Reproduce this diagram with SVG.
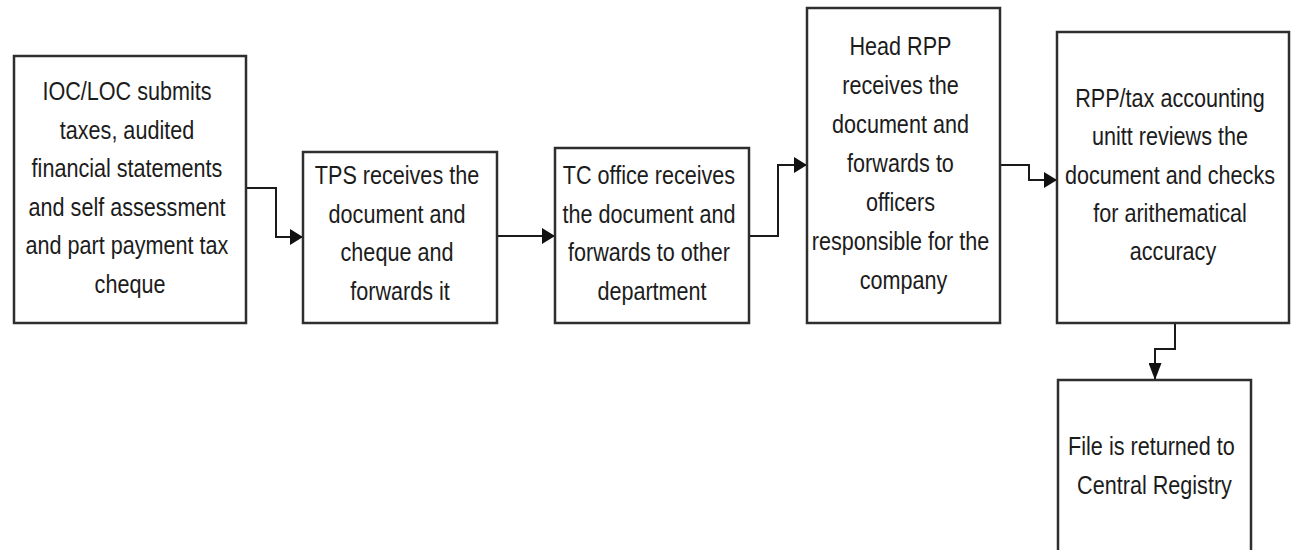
<svg xmlns="http://www.w3.org/2000/svg" width="1291" height="550" viewBox="0 0 1291 550">
  <style>
    .box { fill: #ffffff; stroke: #2e2e2e; stroke-width: 2.5; }
    .lbl { font-family: "Liberation Sans", Arial, sans-serif; font-size: 21.6px; fill: #1c1c1c; text-anchor: middle; }
    .link { fill: none; stroke: #1a1a1a; stroke-width: 2; }
  </style>
  <defs>
    <marker id="arrow-h" viewBox="0 0 13 16" refX="13" refY="8" markerWidth="13" markerHeight="16" markerUnits="userSpaceOnUse" orient="auto">
      <path d="M0,0 L13,8 L0,16 z" fill="#111"/>
    </marker>
    <marker id="arrow-v" viewBox="0 0 17 13" refX="17" refY="6.5" markerWidth="17" markerHeight="13" markerUnits="userSpaceOnUse" orient="auto">
      <path d="M0,0 L17,6.5 L0,13 z" fill="#111"/>
    </marker>
  </defs>
  <rect width="1291" height="550" fill="#ffffff"/>

  <!-- Connectors -->
  <g id="connectors">
    <path class="link" d="M246,188 H276 V237 H303" marker-end="url(#arrow-h)"/>
    <path class="link" d="M497,236 H555" marker-end="url(#arrow-h)"/>
    <path class="link" d="M749,236 H778 V165 H807" marker-end="url(#arrow-h)"/>
    <path class="link" d="M1000,165 H1029 V180 H1057" marker-end="url(#arrow-h)"/>
    <path class="link" d="M1175,323 V349 H1155 V380" marker-end="url(#arrow-v)"/>
  </g>

  <!-- Process steps (text is drawn in a vertically stretched space) -->
  <g id="node-submit">
    <rect class="box" x="14" y="56" width="232" height="267"/>
    <text class="lbl" transform="scale(1 1.2)" y="83.4">
      <tspan x="130">IOC/LOC submits</tspan>
      <tspan x="130" dy="32.17">taxes, audited</tspan>
      <tspan x="130" dy="32.17">financial statements</tspan>
      <tspan x="130" dy="32.17">and self assessment</tspan>
      <tspan x="130" dy="32.17">and part payment tax</tspan>
      <tspan x="130" dy="32.17">cheque</tspan>
    </text>
  </g>

  <g id="node-tps">
    <rect class="box" x="303" y="152" width="194" height="171"/>
    <text class="lbl" transform="scale(1 1.2)" y="153.4">
      <tspan x="400">TPS receives the</tspan>
      <tspan x="400" dy="32.1">document and</tspan>
      <tspan x="400" dy="32.1">cheque and</tspan>
      <tspan x="400" dy="32.1">forwards it</tspan>
    </text>
  </g>

  <g id="node-tc-office">
    <rect class="box" x="555" y="148" width="194" height="175"/>
    <text class="lbl" transform="scale(1 1.2)" y="153.7">
      <tspan x="652">TC office receives</tspan>
      <tspan x="652" dy="32.1">the document and</tspan>
      <tspan x="652" dy="32.1">forwards to other</tspan>
      <tspan x="652" dy="32.1">department</tspan>
    </text>
  </g>

  <g id="node-head-rpp">
    <rect class="box" x="807" y="8" width="193" height="315"/>
    <text class="lbl" transform="scale(1 1.2)" y="45.8">
      <tspan x="903.5">Head RPP</tspan>
      <tspan x="903.5" dy="32.5">receives the</tspan>
      <tspan x="903.5" dy="32.5">document and</tspan>
      <tspan x="903.5" dy="32.5">forwards to</tspan>
      <tspan x="903.5" dy="32.5">officers</tspan>
      <tspan x="903.5" dy="32.5">responsible for the</tspan>
      <tspan x="903.5" dy="32.5">company</tspan>
    </text>
  </g>

  <g id="node-tax-accounting">
    <rect class="box" x="1057" y="32" width="232" height="291"/>
    <text class="lbl" transform="scale(1 1.2)" y="89.2">
      <tspan x="1173">RPP/tax accounting</tspan>
      <tspan x="1173" dy="31.9">unitt reviews the</tspan>
      <tspan x="1173" dy="31.9">document and checks</tspan>
      <tspan x="1173" dy="31.9">for arithematical</tspan>
      <tspan x="1173" dy="31.9">accuracy</tspan>
    </text>
  </g>

  <g id="node-registry">
    <rect class="box" x="1058" y="380" width="193" height="180"/>
    <text class="lbl" transform="scale(1 1.2)" y="379.2">
      <tspan x="1154.5">File is returned to</tspan>
      <tspan x="1154.5" dy="32.5">Central Registry</tspan>
    </text>
  </g>
</svg>
